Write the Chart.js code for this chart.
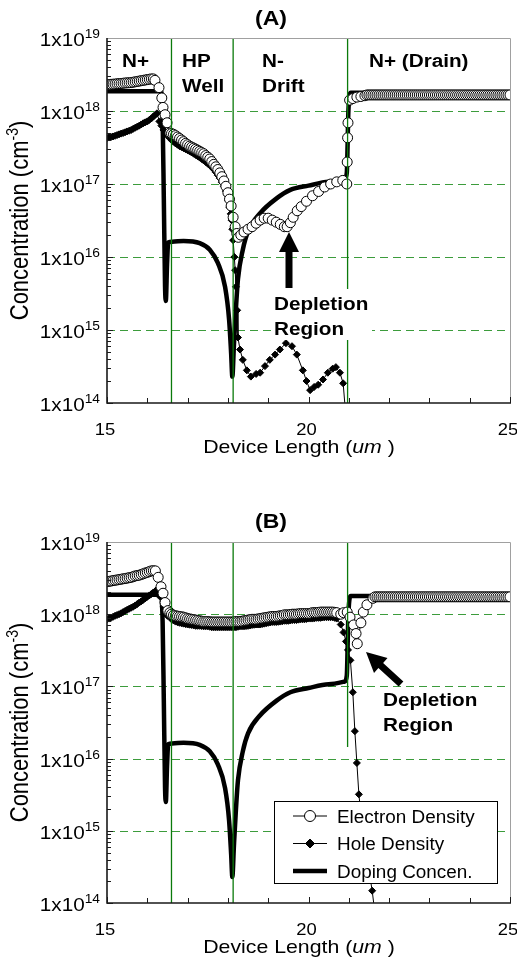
<!DOCTYPE html>
<html>
<head>
<meta charset="utf-8">
<script src="https://cdn.jsdelivr.net/npm/chart.js@4.4.0/dist/chart.umd.min.js"></script>
<style>
  body { margin: 0; background: #fff; }
  canvas { display: block; }
</style>
</head>
<body>
<canvas id="panelA" width="517" height="481"></canvas>
<canvas id="panelB" width="517" height="482"></canvas>
<script>
// axis ranges and ticks
const xMin = 15, xMax = 25;
const yMin = 1e14, yMax = 1e19;
const xTickLabels = [15, 20, 25];
const yDecades = [14, 15, 16, 17, 18, 19];
const gridDecades = [1e15, 1e16, 1e17, 1e18];

// region boundaries (green vertical lines)
const bounds = [16.6, 18.13, 20.97];
const boundLowA = [1e14, 1e14, 1e14];
const boundLowB = [1e14, 1e14, 1.45e16];

// doping concentration (same device in both panels)
const dopX = [15.0, 16.34, 16.38, 16.41, 16.44, 16.46, 16.49, 16.52, 16.62, 16.9, 17.3, 17.55, 17.75, 17.93, 18.03, 18.08, 18.11,
  18.15, 18.2, 18.25, 18.37, 18.5, 18.8, 19.2, 19.55, 20.0, 20.5, 20.9, 20.95, 20.99, 21.05, 25.0];
const dopY = [1.86e18, 1.86e18, 7.9e17, 6.3e16, 4.0e15, 2.5e15, 7.9e15, 1.58e16, 1.62e16, 1.66e16, 1.55e16, 1.26e16, 8.3e15, 3.9e15, 1.38e15, 4.8e14, 2.3e14,
  6.3e14, 2.0e15, 5.0e15, 1.26e16, 2.24e16, 3.98e16, 6.3e16, 8.3e16, 9.5e16, 1.07e17, 1.17e17, 1.41e17, 1.0e18, 1.78e18, 1.78e18];

// mesh points shared by several series
const nPlusX = [15.0, 15.05, 15.1, 15.15, 15.2, 15.25, 15.3, 15.35, 15.4, 15.45, 15.5, 15.55,
  15.6, 15.65, 15.7, 15.75, 15.8, 15.85, 15.9, 15.95, 16.0, 16.05, 16.1, 16.15];
const drainX = [21.65, 21.7, 21.75, 21.8, 21.85, 21.9, 21.95, 22.0,
  22.05, 22.1, 22.15, 22.2, 22.25, 22.3, 22.35, 22.4, 22.45, 22.5, 22.55, 22.6,
  22.65, 22.7, 22.75, 22.8, 22.85, 22.9, 22.95, 23.0, 23.05, 23.1, 23.15, 23.2,
  23.25, 23.3, 23.35, 23.4, 23.45, 23.5, 23.55, 23.6, 23.65, 23.7, 23.75, 23.8,
  23.85, 23.9, 23.95, 24.0, 24.05, 24.1, 24.15, 24.2, 24.25, 24.3, 24.35, 24.4,
  24.45, 24.5, 24.55, 24.6, 24.65, 24.7, 24.75, 24.8, 24.85, 24.9, 24.95, 25.0];
const bandX = [16.6, 16.65, 16.7, 16.75, 16.8, 16.85, 16.9, 16.95, 17.0, 17.05, 17.1, 17.15, 17.2, 17.25, 17.3, 17.35, 17.4, 17.45, 17.5, 17.55,
  17.6, 17.65, 17.7, 17.75, 17.8, 17.85, 17.9, 17.95, 18.0, 18.05, 18.1,
  18.15, 18.2, 18.25, 18.3, 18.35, 18.4, 18.45, 18.5, 18.55, 18.6, 18.65, 18.7, 18.75, 18.8, 18.85, 18.9, 18.95, 19.0, 19.05, 19.1,
  19.15, 19.2, 19.25, 19.3, 19.35, 19.4, 19.45, 19.5, 19.55, 19.6, 19.65, 19.7, 19.75, 19.8, 19.85, 19.9, 19.95, 20.0, 20.05, 20.1,
  20.15, 20.2, 20.25, 20.3, 20.35, 20.4, 20.45, 20.5, 20.55, 20.6, 20.65, 20.7];

// (A) electron density
const eAx = [...nPlusX,
  16.19, 16.29, 16.36, 16.39, 16.44, 16.49, 16.56,
  16.6, 16.65, 16.7, 16.75, 16.8, 16.85, 16.9, 16.95, 17.0, 17.05, 17.1, 17.15, 17.2, 17.25, 17.3,
  17.35, 17.4, 17.45, 17.5, 17.55, 17.6, 17.65, 17.7, 17.75, 17.8, 17.85, 17.9, 17.95, 18.0,
  18.04, 18.08, 18.13, 18.18, 18.22, 18.26,
  18.32, 18.4, 18.5, 18.6, 18.7, 18.8, 18.9, 19.0, 19.1, 19.2, 19.3, 19.4,
  19.47, 19.55, 19.62, 19.72, 19.82, 19.95, 20.1, 20.25, 20.4, 20.55, 20.7, 20.85,
  20.95, 20.96, 20.97, 20.98, 21.02, 21.1, 21.2, 21.3, 21.4, 21.45, 21.5, 21.55, 21.6,
  ...drainX];
const eAy = [2.29e18, 2.3e18, 2.32e18, 2.33e18, 2.34e18, 2.36e18, 2.37e18, 2.38e18, 2.4e18, 2.42e18, 2.43e18, 2.44e18,
  2.45e18, 2.48e18, 2.51e18, 2.54e18, 2.57e18, 2.6e18, 2.63e18, 2.66e18, 2.69e18, 2.72e18, 2.75e18, 2.75e18,
  2.63e18, 2.09e18, 1.51e18, 1.12e18, 8.9e17, 6.9e17, 5.0e17,
  4.9e17, 4.8e17, 4.6e17, 4.4e17, 4.2e17, 4.0e17, 3.8e17, 3.6e17, 3.45e17, 3.3e17, 3.2e17, 3.1e17, 3.0e17, 2.9e17, 2.8e17,
  2.7e17, 2.6e17, 2.45e17, 2.33e17, 2.2e17, 2.03e17, 1.86e17, 1.72e17, 1.58e17, 1.42e17, 1.26e17, 1.1e17, 9.3e16, 7.6e16,
  6.2e16, 5.0e16, 3.5e16, 2.6e16, 2.1e16, 1.86e16,
  2.0e16, 2.2e16, 2.4e16, 2.6e16, 2.9e16, 3.2e16, 3.4e16, 3.4e16, 3.2e16, 3.0e16, 2.8e16, 2.6e16,
  2.6e16, 2.95e16, 3.5e16, 4.3e16, 4.9e16, 5.8e16, 6.9e16, 7.9e16, 9.1e16, 1.0e17, 1.07e17, 1.12e17,
  1.0e17, 2.0e17, 4.3e17, 6.9e17, 1.41e18, 1.48e18, 1.55e18, 1.58e18, 1.62e18, 1.66e18, 1.66e18, 1.66e18, 1.66e18,
  1.66e18, 1.66e18, 1.66e18, 1.66e18, 1.66e18, 1.66e18, 1.66e18, 1.66e18,
  1.66e18, 1.66e18, 1.66e18, 1.66e18, 1.66e18, 1.66e18, 1.66e18, 1.66e18, 1.66e18, 1.66e18, 1.66e18, 1.66e18,
  1.66e18, 1.66e18, 1.66e18, 1.66e18, 1.66e18, 1.66e18, 1.66e18, 1.66e18, 1.66e18, 1.66e18, 1.66e18, 1.66e18,
  1.66e18, 1.66e18, 1.66e18, 1.66e18, 1.66e18, 1.66e18, 1.66e18, 1.66e18, 1.66e18, 1.66e18, 1.66e18, 1.66e18,
  1.66e18, 1.66e18, 1.66e18, 1.66e18, 1.66e18, 1.66e18, 1.66e18, 1.66e18, 1.66e18, 1.66e18, 1.66e18, 1.66e18,
  1.66e18, 1.66e18, 1.66e18, 1.66e18, 1.66e18, 1.66e18, 1.66e18, 1.66e18, 1.66e18, 1.66e18, 1.66e18, 1.66e18];

// (A) hole density
const hAx = [...nPlusX, 16.2, 16.24,
  16.3, 16.35, 16.4, 16.45, 16.5, 16.55, 16.6, 16.65, 16.7, 16.75, 16.8, 16.85, 16.9, 16.95, 17.0, 17.05, 17.1,
  17.15, 17.2, 17.25, 17.3, 17.35, 17.4, 17.45, 17.5, 17.55, 17.6, 17.65, 17.7, 17.75, 17.8, 17.85, 17.9, 17.95,
  17.98, 18.01, 18.04, 18.07, 18.09, 18.11,
  18.13, 18.16, 18.18, 18.2, 18.23, 18.25, 18.3, 18.37, 18.47, 18.57, 18.7, 18.8, 18.92, 19.04, 19.17, 19.29, 19.44,
  19.59, 19.71, 19.86, 19.95, 20.04, 20.14, 20.24, 20.36, 20.48, 20.6, 20.68, 20.78, 20.86, 20.93];
const hAy = [4.27e17, 4.33e17, 4.4e17, 4.48e17, 4.57e17, 4.68e17, 4.79e17, 4.9e17, 5.0e17, 5.12e17, 5.25e17, 5.37e17,
  5.5e17, 5.7e17, 5.9e17, 6.1e17, 6.3e17, 6.55e17, 6.8e17, 7.0e17, 7.2e17, 7.55e17, 7.9e17, 8.4e17, 8.9e17, 9.3e17,
  7.2e17, 6.3e17, 5.5e17, 5.0e17, 4.6e17, 4.3e17, 4.0e17, 3.8e17, 3.6e17, 3.45e17, 3.3e17, 3.2e17, 3.1e17, 3.0e17, 2.9e17, 2.8e17, 2.7e17,
  2.6e17, 2.5e17, 2.4e17, 2.3e17, 2.2e17, 2.1e17, 2.0e17, 1.9e17, 1.8e17, 1.7e17, 1.58e17, 1.45e17, 1.32e17, 1.2e17, 1.06e17, 9.3e16, 8.0e16,
  7.1e16, 6.0e16, 4.8e16, 3.9e16, 3.2e16, 2.4e16,
  1.7e16, 1.0e16, 6.6e15, 3.9e15, 1.86e15, 7.9e14, 5.4e14, 3.9e14, 2.8e14, 2.3e14, 2.5e14, 2.6e14, 3.2e14, 3.9e14, 4.6e14, 5.4e14, 6.6e14,
  6.0e14, 4.6e14, 2.8e14, 2.0e14, 1.5e14, 1.66e14, 1.78e14, 2.1e14, 2.6e14, 2.95e14, 3.1e14, 2.6e14, 1.86e14, 6.3e13];

// (B) electron density
const eBx = [...nPlusX,
  16.2, 16.27, 16.34, 16.39, 16.44, 16.51, 16.56,
  ...bandX,
  20.8, 20.87, 20.96, 21.03, 21.12, 21.18, 21.21, 21.3, 21.36, 21.45, 21.6,
  ...drainX];
const eBy = [2.82e18, 2.85e18, 2.88e18, 2.92e18, 2.95e18, 2.98e18, 3.02e18, 3.05e18, 3.09e18, 3.12e18, 3.16e18, 3.2e18,
  3.24e18, 3.31e18, 3.39e18, 3.43e18, 3.47e18, 3.55e18, 3.63e18, 3.72e18, 3.8e18, 3.89e18, 3.98e18, 4.0e18,
  3.98e18, 3.24e18, 2.4e18, 1.95e18, 1.45e18, 1.12e18, 1.05e18,
  1.0e18, 9.7e17, 9.5e17, 9.4e17, 9.3e17, 9.2e17, 9.1e17, 8.9e17, 8.7e17, 8.6e17, 8.5e17, 8.4e17, 8.3e17, 8.2e17, 8.1e17, 8.0e17, 7.9e17, 7.9e17, 7.9e17, 7.85e17,
  7.8e17, 7.8e17, 7.8e17, 7.8e17, 7.8e17, 7.8e17, 7.8e17, 7.8e17, 7.8e17, 7.8e17, 7.8e17,
  7.85e17, 7.9e17, 7.9e17, 7.9e17, 8.0e17, 8.1e17, 8.2e17, 8.3e17, 8.4e17, 8.5e17, 8.5e17, 8.5e17, 8.6e17, 8.7e17, 8.8e17, 8.9e17, 9.0e17, 9.1e17, 9.2e17, 9.3e17,
  9.3e17, 9.3e17, 9.4e17, 9.5e17, 9.6e17, 9.8e17, 9.8e17, 9.8e17, 9.9e17, 1.0e18, 1.0e18, 1.0e18, 1.01e18, 1.02e18, 1.02e18, 1.02e18, 1.02e18, 1.02e18, 1.03e18, 1.05e18,
  1.05e18, 1.05e18, 1.06e18, 1.07e18, 1.07e18, 1.07e18, 1.07e18, 1.07e18, 1.07e18, 1.07e18, 1.06e18, 1.05e18,
  1.0e18, 1.05e18, 1.07e18, 9.1e17, 7.1e17, 5.4e17, 3.9e17, 7.6e17, 1.07e18, 1.35e18, 1.66e18,
  1.74e18, 1.74e18, 1.74e18, 1.74e18, 1.74e18, 1.74e18, 1.74e18, 1.74e18,
  1.74e18, 1.74e18, 1.74e18, 1.74e18, 1.74e18, 1.74e18, 1.74e18, 1.74e18, 1.74e18, 1.74e18, 1.74e18, 1.74e18,
  1.74e18, 1.74e18, 1.74e18, 1.74e18, 1.74e18, 1.74e18, 1.74e18, 1.74e18, 1.74e18, 1.74e18, 1.74e18, 1.74e18,
  1.74e18, 1.74e18, 1.74e18, 1.74e18, 1.74e18, 1.74e18, 1.74e18, 1.74e18, 1.74e18, 1.74e18, 1.74e18, 1.74e18,
  1.74e18, 1.74e18, 1.74e18, 1.74e18, 1.74e18, 1.74e18, 1.74e18, 1.74e18, 1.74e18, 1.74e18, 1.74e18, 1.74e18,
  1.74e18, 1.74e18, 1.74e18, 1.74e18, 1.74e18, 1.74e18, 1.74e18, 1.74e18, 1.74e18, 1.74e18, 1.74e18, 1.74e18];

// (B) hole density
const hBx = [...nPlusX, 16.2, 16.24, 16.3, 16.4, 16.5,
  ...bandX,
  20.8, 20.87, 20.93, 20.98, 21.04, 21.1, 21.15, 21.2, 21.25, 21.33, 21.45, 21.58, 21.65];
const hBy = [8.5e17, 8.7e17, 8.9e17, 9.2e17, 9.5e17, 9.75e17, 1.0e18, 1.03e18, 1.07e18, 1.11e18, 1.15e18, 1.19e18,
  1.23e18, 1.27e18, 1.32e18, 1.38e18, 1.45e18, 1.51e18, 1.58e18, 1.66e18, 1.74e18, 1.82e18, 1.9e18, 2.0e18, 2.09e18, 2.19e18,
  1.78e18, 1.26e18, 9.5e17,
  8.5e17, 8.2e17, 7.9e17, 7.75e17, 7.6e17, 7.5e17, 7.4e17, 7.3e17, 7.2e17, 7.15e17, 7.1e17, 7.0e17, 6.9e17, 6.9e17, 6.9e17, 6.85e17, 6.8e17, 6.8e17, 6.8e17, 6.7e17,
  6.6e17, 6.6e17, 6.6e17, 6.6e17, 6.6e17, 6.6e17, 6.6e17, 6.6e17, 6.6e17, 6.6e17, 6.6e17, 6.6e17, 6.6e17,
  6.7e17, 6.8e17, 6.8e17, 6.8e17, 6.85e17, 6.9e17, 7.0e17, 7.1e17, 7.15e17, 7.2e17, 7.2e17, 7.2e17, 7.3e17, 7.4e17, 7.5e17, 7.6e17, 7.7e17, 7.8e17, 7.8e17, 7.8e17,
  7.85e17, 7.9e17, 8.0e17, 8.1e17, 8.1e17, 8.1e17, 8.2e17, 8.3e17, 8.3e17, 8.3e17, 8.4e17, 8.5e17, 8.5e17, 8.5e17, 8.6e17, 8.7e17, 8.7e17, 8.7e17, 8.8e17, 8.9e17,
  8.9e17, 8.9e17, 9.0e17, 9.1e17, 9.1e17, 9.1e17, 9.1e17, 9.1e17, 8.9e17, 8.7e17,
  7.2e17, 5.6e17, 4.2e17, 3.2e17, 2.3e17, 8.3e16, 2.4e16, 8.7e15, 3.2e15, 1.17e15, 4.2e14, 1.48e14, 7.1e13];

const FONT = '"Liberation Sans", Arial, sans-serif';
const SX = 1.15; // the figure is a bit wider than tall, stretch text to match

function font(size, style) {
  return (style ? style + ' ' : '') + size + 'px ' + FONT;
}

function series(xs, ys) {
  return xs.map((x, i) => ({ x: x, y: ys[i] }));
}

// draw a row of text pieces (for superscripts / italics)
function drawRuns(ctx, runs, x, y, align, sx) {
  if (sx === undefined) sx = SX;
  let total = 0;
  runs.forEach(r => {
    ctx.font = r.font;
    r.w = ctx.measureText(r.text).width * sx;
    total += r.w;
  });
  let cx = align === 'center' ? x - total / 2 : (align === 'right' ? x - total : x);
  runs.forEach(r => {
    ctx.save();
    ctx.font = r.font;
    ctx.textAlign = 'left';
    ctx.textBaseline = 'alphabetic';
    ctx.translate(cx, y + (r.dy || 0));
    ctx.scale(sx, 1);
    ctx.fillText(r.text, 0, 0);
    ctx.restore();
    cx += r.w;
  });
}

function arrow(ctx, x1, y1, x2, y2, shaftW, headL, headW) {
  const ang = Math.atan2(y2 - y1, x2 - x1);
  const len = Math.hypot(x2 - x1, y2 - y1);
  ctx.save();
  ctx.translate(x1, y1);
  ctx.rotate(ang);
  ctx.beginPath();
  ctx.moveTo(0, -shaftW / 2);
  ctx.lineTo(len - headL, -shaftW / 2);
  ctx.lineTo(len - headL, -headW / 2);
  ctx.lineTo(len, 0);
  ctx.lineTo(len - headL, headW / 2);
  ctx.lineTo(len - headL, shaftW / 2);
  ctx.lineTo(0, shaftW / 2);
  ctx.closePath();
  ctx.fillStyle = '#000';
  ctx.fill();
  ctx.restore();
}

const decor = {
  id: 'decor',
  beforeDatasetsDraw(chart) {
    const { ctx, chartArea: a, scales: { y } } = chart;
    ctx.save();
    ctx.strokeStyle = '#3c9c3c';
    ctx.lineWidth = 1;
    ctx.setLineDash([8, 5]);
    gridDecades.forEach(v => {
      const py = Math.round(y.getPixelForValue(v)) + 0.5;
      ctx.beginPath();
      ctx.moveTo(a.left, py);
      ctx.lineTo(a.right, py);
      ctx.stroke();
    });
    ctx.restore();
  },
  afterDraw(chart) {
    const o = chart.options.plugins.decor;
    const { ctx, chartArea: a, scales: { x, y } } = chart;
    ctx.save();

    // text boxes that hide the lines behind them
    (o.boxes || []).forEach(b => {
      ctx.fillStyle = '#fff';
      ctx.fillRect(b[0], b[1], b[2], b[3]);
    });

    // frame
    ctx.strokeStyle = '#a0a0a0';
    ctx.lineWidth = 1;
    ctx.beginPath();
    ctx.moveTo(a.left, a.top + 0.5);
    ctx.lineTo(a.right + 0.5, a.top + 0.5);
    ctx.lineTo(a.right + 0.5, a.bottom);
    ctx.stroke();
    ctx.strokeStyle = '#1a1a1a';
    ctx.lineWidth = 1.6;
    ctx.beginPath();
    ctx.moveTo(a.left, a.top);
    ctx.lineTo(a.left, a.bottom);
    ctx.lineTo(a.right + 1, a.bottom);
    ctx.stroke();

    // ticks, pointing inwards
    ctx.lineWidth = 1;
    ctx.beginPath();
    for (let k = 14; k < 19; k++) {
      for (let m = 1; m < 10; m++) {
        const py = Math.round(y.getPixelForValue(m * Math.pow(10, k))) + 0.5;
        ctx.moveTo(a.left, py);
        ctx.lineTo(a.left + (m === 1 ? 6 : 4), py);
      }
    }
    for (let t = xMin; t <= xMax; t++) {
      const px = Math.round(x.getPixelForValue(t)) + 0.5;
      ctx.moveTo(px, a.bottom);
      ctx.lineTo(px, a.bottom - (t % 5 === 0 ? 6 : 5));
    }
    ctx.stroke();

    ctx.fillStyle = '#000';
    // y tick labels 1x10^n
    yDecades.forEach(k => {
      const py = y.getPixelForValue(Math.pow(10, k));
      drawRuns(ctx, [
        { text: '1x10', font: font(18) },
        { text: String(k), font: font(12), dy: -8 }
      ], a.left - 7, py + 8, 'right');
    });
    // x tick labels
    xTickLabels.forEach(t => {
      drawRuns(ctx, [{ text: String(t), font: font(16) }], x.getPixelForValue(t) - 2, a.bottom + 32, 'center');
    });
    // axis titles
    drawRuns(ctx, [
      { text: 'Device Length (', font: font(18.5) },
      { text: 'um', font: font(18.5, 'italic') },
      { text: ' )', font: font(18.5) }
    ], 299, a.bottom + 50, 'center');
    ctx.save();
    ctx.translate(19, (a.top + a.bottom) / 2);
    ctx.rotate(-Math.PI / 2);
    ctx.scale(1, SX);
    drawRuns(ctx, [
      { text: 'Concentration (cm', font: font(22) },
      { text: '-3', font: font(14), dy: -9 },
      { text: ')', font: font(22) }
    ], 0, 8, 'center', 1);
    ctx.restore();

    // panel title and labels
    drawRuns(ctx, [{ text: o.title, font: font(20, 'bold') }], 271, o.titleY, 'center');
    o.labels.forEach(l => {
      drawRuns(ctx, [{ text: l[0], font: font(18, 'bold') }], l[1], l[2], 'left');
    });
    o.arrows.forEach(ar => arrow(ctx, ar[0], ar[1], ar[2], ar[3], 7, 20, 20));

    // legend
    if (o.legend) {
      const L = o.legend;
      ctx.fillStyle = '#fff';
      ctx.fillRect(L.x, L.y, L.w, L.h);
      ctx.strokeStyle = '#000';
      ctx.lineWidth = 1;
      ctx.strokeRect(L.x + 0.5, L.y + 0.5, L.w, L.h);
      const rows = chart.data.datasets.filter(d => d.label);
      rows.forEach((d, i) => {
        const ry = L.y + 15 + i * 27.5;
        ctx.strokeStyle = '#000';
        ctx.lineWidth = d.borderWidth;
        ctx.beginPath();
        ctx.moveTo(L.x + 19, ry);
        ctx.lineTo(L.x + 53, ry);
        ctx.stroke();
        if (d.pointRadius) {
          ctx.lineWidth = 1;
          ctx.fillStyle = d.pointBackgroundColor;
          ctx.beginPath();
          if (d.pointStyle === 'circle') {
            ctx.arc(L.x + 36, ry, 5.5, 0, Math.PI * 2);
          } else {
            ctx.moveTo(L.x + 36, ry - 4.5);
            ctx.lineTo(L.x + 40.5, ry);
            ctx.lineTo(L.x + 36, ry + 4.5);
            ctx.lineTo(L.x + 31.5, ry);
            ctx.closePath();
          }
          ctx.fill();
          ctx.stroke();
        }
        ctx.fillStyle = '#000';
        drawRuns(ctx, [{ text: d.label, font: font(17.5) }], L.x + 63, ry + 6.5, 'left', 1.08);
      });
    }
    ctx.restore();
  }
};

function makeChart(id, p) {
  const verticals = bounds.map((b, i) => ({
    data: [{ x: b, y: yMax }, { x: b, y: p.boundLow[i] }],
    borderColor: '#0b7a0b',
    borderWidth: 1.3,
    pointRadius: 0,
    order: 0
  }));
  return new Chart(document.getElementById(id), {
    type: 'line',
    data: {
      datasets: [
        ...verticals,
        {
          label: 'Electron Density',
          data: series(p.ex, p.ey),
          borderColor: '#000',
          borderWidth: 1,
          pointStyle: 'circle',
          pointRadius: 5,
          pointBackgroundColor: '#fff',
          pointBorderColor: '#000',
          pointBorderWidth: 1,
          order: 1
        },
        {
          label: 'Hole Density',
          data: series(p.hx, p.hy),
          borderColor: '#000',
          borderWidth: 1,
          pointStyle: 'rectRot',
          pointRadius: 3.5,
          pointBackgroundColor: '#000',
          pointBorderColor: '#000',
          pointBorderWidth: 1,
          order: 2
        },
        {
          label: 'Doping Concen.',
          data: series(dopX, dopY),
          borderColor: '#000',
          borderWidth: 4.5,
          pointRadius: 0,
          cubicInterpolationMode: 'monotone',
          order: 3
        }
      ]
    },
    options: {
      responsive: false,
      animation: false,
      events: [],
      layout: { padding: p.padding },
      scales: {
        x: { type: 'linear', min: xMin, max: xMax, display: false },
        y: { type: 'logarithmic', min: yMin, max: yMax, display: false }
      },
      plugins: {
        legend: { display: false },
        tooltip: { enabled: false },
        decor: p.decor
      }
    },
    plugins: [decor]
  });
}

makeChart('panelA', {
  ex: eAx, ey: eAy, hx: hAx, hy: hAy, boundLow: boundLowA,
  padding: { left: 107, right: 7, top: 38, bottom: 78 },
  decor: {
    title: '(A)', titleY: 25,
    labels: [
      ['N+', 122, 66.5], ['HP', 182, 66.5], ['Well', 182, 91.5],
      ['N-', 262, 66.5], ['Drift', 262, 91.5], ['N+ (Drain)', 369, 66.5],
      ['Depletion', 274, 309.5], ['Region', 274, 334.5]
    ],
    boxes: [[271, 289, 101, 51]],
    arrows: [[289, 288, 289, 232]]
  }
});

makeChart('panelB', {
  ex: eBx, ey: eBy, hx: hBx, hy: hBy, boundLow: boundLowB,
  padding: { left: 107, right: 7, top: 61, bottom: 60 },
  decor: {
    title: '(B)', titleY: 47,
    labels: [['Depletion', 383, 224.5], ['Region', 383, 249.5]],
    arrows: [[401, 203, 366, 171]],
    legend: { x: 274, y: 320, w: 223, h: 82 }
  }
});
</script>
</body>
</html>
